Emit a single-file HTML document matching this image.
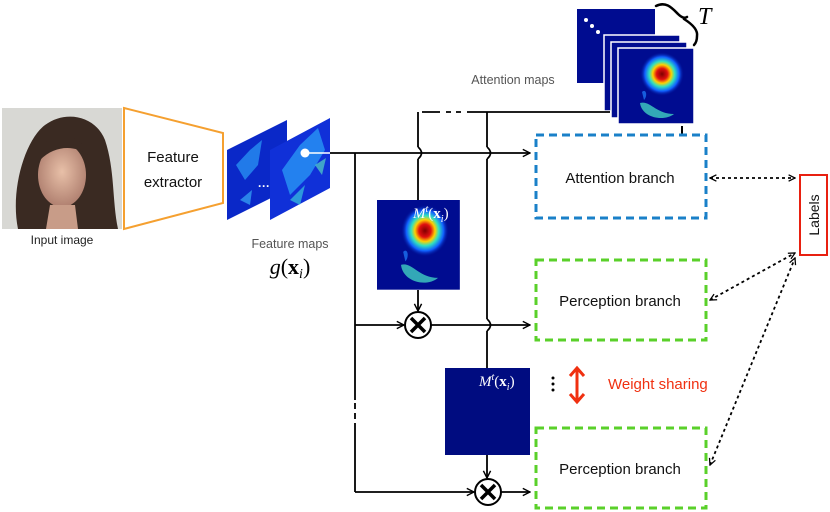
<!DOCTYPE html>
<html><head><meta charset="utf-8"><style>
html,body{margin:0;padding:0;background:#fff;width:830px;height:512px;overflow:hidden}
svg{display:block}
.s{font-family:"Liberation Sans",sans-serif}
.r{font-family:"Liberation Serif",serif}
</style></head><body>
<svg width="830" height="512" viewBox="0 0 830 512" xmlns="http://www.w3.org/2000/svg">
<defs>
<marker id="ar" viewBox="0 0 10 10" refX="9" refY="5" markerWidth="9" markerHeight="9" orient="auto" markerUnits="userSpaceOnUse"><path d="M1,1 L9,5 L1,9" fill="none" stroke="#000" stroke-width="1.6"/></marker>
<marker id="ar2" viewBox="0 0 10 10" refX="9" refY="5" markerWidth="8" markerHeight="8" orient="auto-start-reverse" markerUnits="userSpaceOnUse"><path d="M1,1 L9,5 L1,9" fill="none" stroke="#000" stroke-width="1.6"/></marker>
<radialGradient id="hot" cx="0.5" cy="0.5" r="0.5">
<stop offset="0" stop-color="#800000"/><stop offset="0.25" stop-color="#e01010"/><stop offset="0.42" stop-color="#ffd000"/><stop offset="0.58" stop-color="#30e0c0"/><stop offset="0.78" stop-color="#1060ff"/><stop offset="1" stop-color="#000c90" stop-opacity="0"/></radialGradient>
<radialGradient id="skin" cx="0.5" cy="0.45" r="0.55"><stop offset="0" stop-color="#e8c0a8"/><stop offset="1" stop-color="#b08070"/></radialGradient>
<g id="heat">
<rect x="0" y="0" width="76" height="76" fill="#000c90"/>
<circle cx="44" cy="26" r="22" fill="url(#hot)"/>
<path d="M22,55 C32,52 38,66 56,66 C46,74 24,70 22,55 Z" fill="#40d0c0" opacity="0.8"/>
<path d="M24,44 C28,40 30,48 26,52 Z" fill="#2080ff" opacity="0.7"/>
</g>
</defs>

<!-- input image -->
<rect x="2" y="108" width="120" height="121" fill="#d8d8d4"/>
<path d="M18,229 C10,190 25,140 45,125 C65,110 95,115 105,140 C115,170 112,200 118,229 Z" fill="#3a2a22"/>
<ellipse cx="62" cy="175" rx="24" ry="32" fill="url(#skin)"/>
<path d="M40,150 C50,130 80,130 88,155 C75,145 55,145 40,160 Z" fill="#3a2a22"/>
<path d="M50,205 L75,205 L78,229 L46,229 Z" fill="#c89c88"/>
<text class="s" x="62" y="244" font-size="12" text-anchor="middle" fill="#222">Input image</text>

<!-- feature extractor -->
<polygon points="124,108 223,133 223,203 124,229" fill="#fff" stroke="#f5a030" stroke-width="2"/>
<text class="s" x="173" y="162" font-size="15" text-anchor="middle" fill="#111">Feature</text>
<text class="s" x="173" y="187" font-size="15" text-anchor="middle" fill="#111">extractor</text>

<!-- feature maps -->
<polygon points="227,150 287,120 287,190 227,220" fill="#0a28c8"/>
<path d="M236,165 L250,150 L262,140 L258,165 L245,180 Z" fill="#30b0ff" opacity="0.6"/>
<path d="M240,200 L252,190 L250,205 Z" fill="#40c0ff" opacity="0.6"/>
<polygon points="270,150 330,118 330,188 270,220" fill="#1030d8"/>
<path d="M282,170 L300,145 L318,128 L325,150 L310,175 L290,195 Z" fill="#30b8ff" opacity="0.6"/>
<path d="M290,200 L305,185 L300,205 Z" fill="#40e0e0" opacity="0.6"/>
<path d="M315,165 L326,158 L322,175 Z" fill="#60f0c0" opacity="0.6"/>
<circle cx="305" cy="153" r="4.5" fill="#fff"/>
<line x1="305" y1="153" x2="330" y2="153" stroke="#fff" stroke-width="1.5"/>
<text class="s" x="258" y="190" font-size="12" fill="#fff" font-weight="bold">···</text>
<text class="s" x="290" y="248" font-size="12.5" text-anchor="middle" fill="#555">Feature maps</text>
<text class="r" x="290" y="274" font-size="22" text-anchor="middle" fill="#000"><tspan font-style="italic">g</tspan>(<tspan font-weight="bold">x</tspan><tspan font-style="italic" font-size="14" dy="4">i</tspan><tspan dy="-4">)</tspan></text>

<!-- attention maps stack -->
<rect x="577" y="9" width="78" height="74" fill="#000c90"/>
<circle cx="586" cy="20" r="2" fill="#fff"/><circle cx="592" cy="26" r="2" fill="#fff"/><circle cx="598" cy="32" r="2" fill="#fff"/>
<rect x="604" y="35" width="76" height="76" fill="#000c90" stroke="#fff" stroke-width="1.5"/>
<rect x="611" y="42" width="76" height="76" fill="#000c90" stroke="#fff" stroke-width="1.5"/>
<use href="#heat" x="618" y="48"/>
<rect x="618" y="48" width="76" height="76" fill="none" stroke="#fff" stroke-width="1.5"/>
<path d="M656,6 C666,1 672,8 678,14 C681,17 684,19 687,17 M684,19 C692,24 698,30 697,36 C697,40 696,43 694,45" fill="none" stroke="#000" stroke-width="2.5" stroke-linecap="round"/>
<text class="r" x="698" y="24" font-size="24" font-style="italic">T</text>
<text class="s" x="513" y="84" font-size="12.5" text-anchor="middle" fill="#555">Attention maps</text>
<line x1="682" y1="126" x2="682" y2="134" stroke="#000" stroke-width="2"/>

<!-- lines -->
<g stroke="#000" stroke-width="1.8" fill="none">
<line x1="330" y1="153" x2="530" y2="153" marker-end="url(#ar)"/>
<line x1="418" y1="112" x2="418" y2="147"/>
<path d="M418,147 q7,6 0,12"/>
<line x1="418" y1="159" x2="418" y2="200"/>
<line x1="418" y1="290" x2="418" y2="311" marker-end="url(#ar)"/>
<line x1="422" y1="112" x2="478" y2="112" stroke-dasharray="18,6,5,5,5,6"/>
<line x1="478" y1="112" x2="610" y2="112"/>
<line x1="487" y1="112" x2="487" y2="147"/>
<path d="M487,147 q7,6 0,12"/>
<line x1="487" y1="159" x2="487" y2="319"/>
<path d="M487,319 q7,6 0,12"/>
<line x1="487" y1="331" x2="487" y2="368"/>
<line x1="487" y1="455" x2="487" y2="478" marker-end="url(#ar)"/>
<line x1="355" y1="153" x2="355" y2="400"/>
<line x1="355" y1="403" x2="355" y2="428" stroke-dasharray="6,4"/>
<line x1="355" y1="428" x2="355" y2="492"/>
<line x1="355" y1="325" x2="404" y2="325" marker-end="url(#ar)"/>
<line x1="431" y1="325" x2="530" y2="325" marker-end="url(#ar)"/>
<line x1="355" y1="492" x2="474" y2="492" marker-end="url(#ar)"/>
<line x1="501" y1="492" x2="530" y2="492" marker-end="url(#ar)"/>
</g>
<!-- multiply circles -->
<g stroke="#000" stroke-width="2" fill="#fff">
<circle cx="418" cy="325" r="13"/><circle cx="488" cy="492" r="13"/>
</g>
<g stroke="#000" stroke-width="3.5">
<line x1="411" y1="318" x2="425" y2="332"/><line x1="425" y1="318" x2="411" y2="332"/>
<line x1="481" y1="485" x2="495" y2="499"/><line x1="495" y1="485" x2="481" y2="499"/>
</g>

<!-- mid attention map -->
<g transform="translate(377,200) scale(1.09,1.18)"><use href="#heat"/></g>
<text class="r" x="413" y="218" font-size="15" fill="#fff"><tspan font-style="italic">M</tspan><tspan font-style="italic" font-size="10" dy="-6">t</tspan><tspan dy="6">(</tspan><tspan font-weight="bold">x</tspan><tspan font-style="italic" font-size="10" dy="4">i</tspan><tspan dy="-4">)</tspan></text>
<rect x="445" y="368" width="85" height="87" fill="#000c80"/>
<text class="r" x="479" y="386" font-size="15" fill="#fff"><tspan font-style="italic">M</tspan><tspan font-style="italic" font-size="10" dy="-6">t</tspan><tspan dy="6">(</tspan><tspan font-weight="bold">x</tspan><tspan font-style="italic" font-size="10" dy="4">i</tspan><tspan dy="-4">)</tspan></text>

<!-- branches -->
<rect x="536" y="135" width="170" height="83" fill="none" stroke="#1a80c8" stroke-width="3" stroke-dasharray="8,5"/>
<text class="s" x="620" y="183" font-size="15" text-anchor="middle" fill="#111">Attention branch</text>
<rect x="536" y="260" width="170" height="80" fill="none" stroke="#5ad02a" stroke-width="3" stroke-dasharray="8,5"/>
<text class="s" x="620" y="306" font-size="15" text-anchor="middle" fill="#111">Perception branch</text>
<rect x="536" y="428" width="170" height="80" fill="none" stroke="#5ad02a" stroke-width="3" stroke-dasharray="8,5"/>
<text class="s" x="620" y="474" font-size="15" text-anchor="middle" fill="#111">Perception branch</text>

<!-- dots and weight sharing -->
<g fill="#000"><circle cx="553" cy="378" r="1.5"/><circle cx="553" cy="384" r="1.5"/><circle cx="553" cy="390" r="1.5"/></g>
<g stroke="#f03010" stroke-width="3" fill="none">
<line x1="577" y1="370" x2="577" y2="400"/>
<path d="M570,376 L577,368 L584,376 M570,394 L577,402 L584,394"/>
</g>
<text class="s" x="608" y="389" font-size="15" fill="#f03010">Weight sharing</text>

<!-- labels -->
<rect x="800" y="175" width="27" height="80" fill="#fff" stroke="#e82010" stroke-width="2"/>
<text class="s" x="0" y="0" font-size="14" text-anchor="middle" transform="translate(819,215) rotate(-90)" fill="#111">Labels</text>
<g stroke="#000" stroke-width="1.8" stroke-dasharray="3,3" fill="none">
<line x1="710" y1="178" x2="795" y2="178" marker-start="url(#ar2)" marker-end="url(#ar2)"/>
<line x1="710" y1="300" x2="795" y2="253" marker-start="url(#ar2)" marker-end="url(#ar2)"/>
<line x1="710" y1="465" x2="795" y2="258" marker-start="url(#ar2)" marker-end="url(#ar2)"/>
</g>
</svg>
</body></html>
